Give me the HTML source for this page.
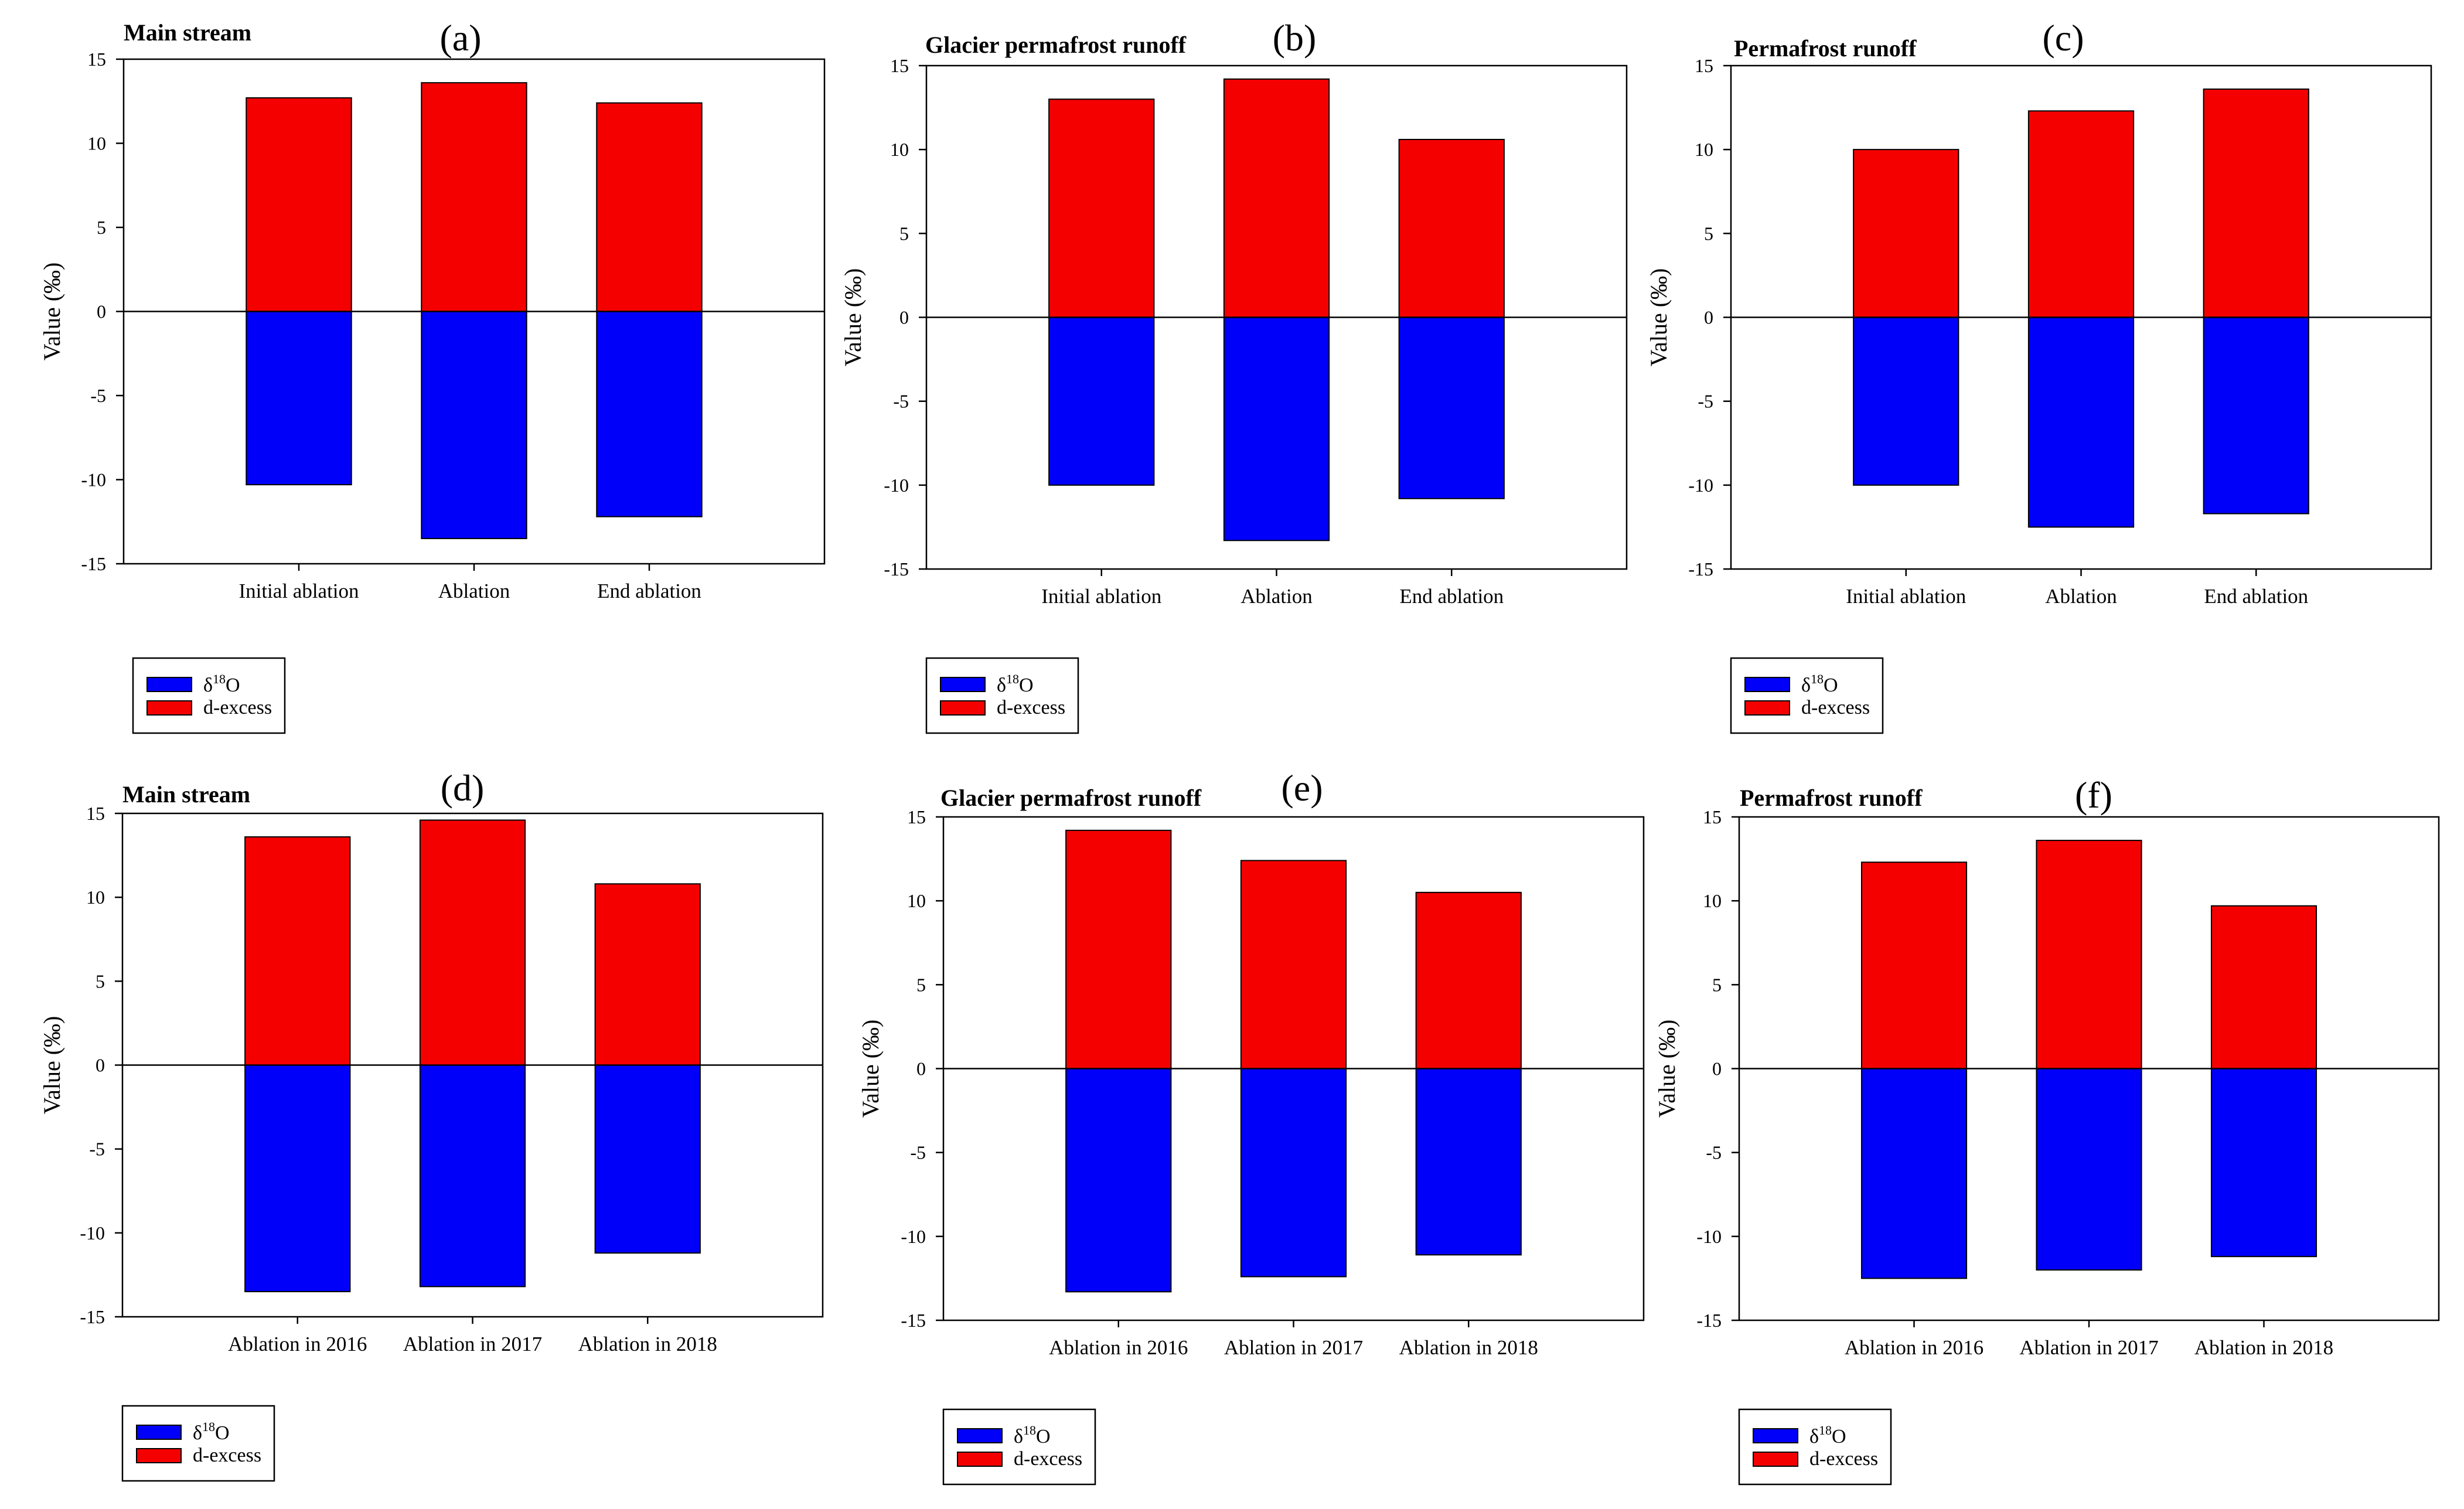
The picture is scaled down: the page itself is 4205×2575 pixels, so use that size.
<!DOCTYPE html>
<html><head><meta charset="utf-8">
<style>
html,body{margin:0;padding:0;background:#fff;}
svg{display:block;}
text{font-family:"Liberation Serif",serif;fill:#000;}
</style></head>
<body>
<svg id="fig" width="4205" height="2575" viewBox="0 0 4205 2575" font-family="Liberation Serif, serif" xmlns="http://www.w3.org/2000/svg"></svg>
<script>
// ---- data ----
const catsTop = ["Initial ablation", "Ablation", "End ablation"];
const catsBottom = ["Ablation in 2016", "Ablation in 2017", "Ablation in 2018"];
const yTicks = [-15, -10, -5, 0, 5, 10, 15];
const dexA = [12.7, 13.6, 12.4];
const d18A = [-10.3, -13.5, -12.2];
const dexB = [13.0, 14.2, 10.6];
const d18B = [-10.0, -13.3, -10.8];
const dexC = [10.0, 12.3, 13.6];
const d18C = [-10.0, -12.5, -11.7];
const dexD = [13.6, 14.6, 10.8];
const d18D = [-13.5, -13.2, -11.2];
const dexE = [14.2, 12.4, 10.5];
const d18E = [-13.3, -12.4, -11.1];
const dexF = [12.3, 13.6, 9.7];
const d18F = [-12.5, -12.0, -11.2];

const NS = "http://www.w3.org/2000/svg";
const svg = document.getElementById("fig");
const SERIF = "'Liberation Serif', serif";
const SANS = "'Liberation Sans', sans-serif";
function mk(tag, attrs, parent, txt) {
  const e = document.createElementNS(NS, tag);
  for (const k in attrs) e.setAttribute(k, attrs[k]);
  if (tag === "text" && !attrs["font-family"]) e.setAttribute("font-family", SERIF);
  if (txt !== undefined) e.textContent = txt;
  (parent || svg).appendChild(e);
  return e;
}

const panels = [
  {id:"a", title:"Main stream", L:211, R:1407, T:101, B:962, tx:211, ty:69, lx:786, ly:86, ylx:88, leg:[227,1123], cats:catsTop, dex:dexA, d18:d18A, sans:true},
  {id:"b", title:"Glacier permafrost runoff", L:1581, R:2776, T:112, B:971, tx:1579, ty:90, lx:2209, ly:86, ylx:1455, leg:[1581,1123], cats:catsTop, dex:dexB, d18:d18B},
  {id:"c", title:"Permafrost runoff", L:2954, R:4149, T:112, B:971, tx:2959, ty:96, lx:3521, ly:86, ylx:2830, leg:[2954,1123], cats:catsTop, dex:dexC, d18:d18C},
  {id:"d", title:"Main stream", L:209, R:1404, T:1388, B:2247, tx:209, ty:1369, lx:789, ly:1366, ylx:88, leg:[209,2399], cats:catsBottom, dex:dexD, d18:d18D},
  {id:"e", title:"Glacier permafrost runoff", L:1610, R:2805, T:1394, B:2253, tx:1605, ty:1375, lx:2222, ly:1366, ylx:1485, leg:[1610,2405], cats:catsBottom, dex:dexE, d18:d18E},
  {id:"f", title:"Permafrost runoff", L:2968, R:4162, T:1394, B:2253, tx:2969, ty:1375, lx:3573, ly:1378, ylx:2844, leg:[2968,2405], cats:catsBottom, dex:dexF, d18:d18F}
];

panels.forEach(p => {
  const g = mk("g", {});
  
  
  const y = v => p.T + (15 - v) / 30 * (p.B - p.T);
  const xc = i => p.L + (i + 1) * (p.R - p.L) / 4;
  const bw = 0.6 * (p.R - p.L) / 4;

  p.dex.forEach((v, i) => {
    const r = mk("rect", {x: xc(i) - bw/2, y: y(v), width: bw, height: y(0) - y(v), fill: "#f50000", stroke: "#000", "stroke-width": 2}, g);
    
    
  });
  p.d18.forEach((v, i) => {
    const r = mk("rect", {x: xc(i) - bw/2, y: y(0), width: bw, height: y(v) - y(0), fill: "#0000fa", stroke: "#000", "stroke-width": 2}, g);
    
    
  });
  const z = mk("line", {x1: p.L, x2: p.R, y1: y(0), y2: y(0), stroke: "#000", "stroke-width": 2.5}, g);
  
  
  const fr = mk("rect", {x: p.L, y: p.T, width: p.R - p.L, height: p.B - p.T, fill: "none", stroke: "#000", "stroke-width": 2.5}, g);
  
  
  yTicks.forEach(t => {
    mk("line", {x1: p.L - 13, x2: p.L, y1: y(t), y2: y(t), stroke: "#000", "stroke-width": 2.5}, g);
    const tl = mk("text", {x: p.L - 30, y: y(t) + 11, "text-anchor": "end", "font-size": 32,
      "font-family": p.sans ? SANS : SERIF}, g, String(t));
    
    
  });
  p.cats.forEach((c, i) => {
    mk("line", {x1: xc(i), x2: xc(i), y1: p.B, y2: p.B + 12, stroke: "#000", "stroke-width": 2.5}, g);
    const xl = mk("text", {x: xc(i), y: p.B + 58, "text-anchor": "middle", "font-size": 35}, g, c);
    
    
  });
  const yl = mk("text", {x: 0, y: 0, "text-anchor": "middle", "font-size": 40,
    transform: `translate(${p.ylx + 14},${(p.T + p.B) / 2}) rotate(-90)`}, g, "Value (‰)");
  
  
  const tt = mk("text", {x: p.tx, y: p.ty, "font-size": 40, "font-weight": "bold"}, g, p.title);
  
  
  const lab = mk("text", {x: p.lx, y: p.ly, "text-anchor": "middle", "font-size": 64}, g, "(" + p.id + ")");
  
  
  const [lx, ly] = p.leg;
  const lg = mk("g", {}, g);
  
  
  mk("rect", {x: lx, y: ly, width: 259, height: 128, fill: "#fff", stroke: "#000", "stroke-width": 2.5}, lg);
  mk("rect", {x: lx + 24, y: ly + 33, width: 76, height: 24, fill: "#0000fa", stroke: "#000", "stroke-width": 2}, lg);
  mk("rect", {x: lx + 24, y: ly + 73, width: 76, height: 24, fill: "#f50000", stroke: "#000", "stroke-width": 2}, lg);
  const t1 = mk("text", {x: lx + 120, y: ly + 57, "font-size": 34}, lg);
  
  
  mk("tspan", {}, t1, "δ");
  mk("tspan", {"font-size": 22, dy: -14}, t1, "18");
  mk("tspan", {dy: 14}, t1, "O");
  const t2 = mk("text", {x: lx + 120, y: ly + 95, "font-size": 34}, lg, "d-excess");
  
  
});
</script>
</body></html>
